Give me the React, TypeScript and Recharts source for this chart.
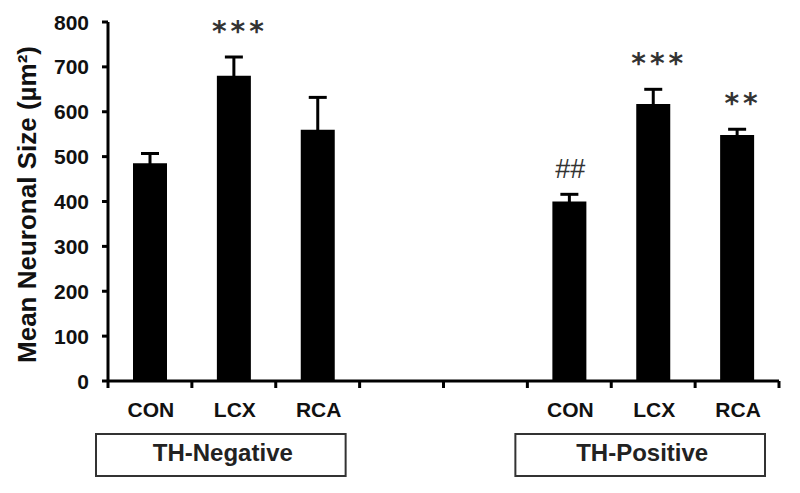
import React from 'react';
import { BarChart, Bar, XAxis, YAxis, ErrorBar, LabelList, Label } from 'recharts';

const categories = ['CON', 'LCX', 'RCA', '', '', 'CON', 'LCX', 'RCA'];
const means: (number | null)[] = [485, 680, 560, null, null, 400, 617, 548];
const errors: (number | null)[] = [22, 42, 72, null, null, 16, 33, 13];
const annotations = ['', '***', '', '', '', '##', '***', '**'];
const groupLabels = ['', 'TH-Negative', '', '', '', '', 'TH-Positive', ''];
const yTicks = [0, 100, 200, 300, 400, 500, 600, 700, 800];

const data = categories.map((name, i) => ({
  id: i,
  name,
  mean: means[i],
  err: errors[i],
}));

const W = 800;
const H = 493;
const M = { top: 22, right: 21, left: 48, bottom: 72 };
const Y_AXIS_W = 60;
const BAND = (W - M.left - M.right - Y_AXIS_W) / categories.length;

const FONT = 'Liberation Sans, Arial, sans-serif';

const XTick = (props: any) => {
  const { x, y, payload } = props;
  const i = payload.index;
  const label = categories[i];
  const group = groupLabels[i];
  const boxW = 3 * BAND - 2;
  const boxCx = x - 13;
  const left = x - BAND / 2;
  const right = x + BAND / 2;
  return (
    <g>
      <line x1={left} x2={left} y1={y} y2={y + 7} stroke="#000" strokeWidth={3} />
      {i === categories.length - 1 ? (
        <line x1={right} x2={right} y1={y} y2={y + 7} stroke="#000" strokeWidth={3} />
      ) : null}
      <text x={x + 1} y={y + 36} textAnchor="middle" fontFamily={FONT} fontWeight="bold" fontSize={21} fill="#111">
        {label}
      </text>
      {group ? (
        <g>
          <rect x={boxCx - boxW / 2} y={434} width={boxW} height={42} fill="#fff" stroke="#333" strokeWidth={2} />
          <text x={boxCx + 2} y={461} textAnchor="middle" fontFamily={FONT} fontWeight="bold" fontSize={24} fill="#222">
            {group}
          </text>
        </g>
      ) : null}
    </g>
  );
};

const YTick = (props: any) => {
  const { x, y, payload } = props;
  return (
    <text x={x - 7} y={y} dy="0.36em" textAnchor="end" fontFamily={FONT} fontWeight="bold" fontSize={21} fill="#111">
      {payload.value}
    </text>
  );
};

const Annotation = (props: any) => {
  const { x, y, width, height, value } = props;
  const idx = Number(value);
  const note = annotations[idx];
  const m = means[idx];
  const e = errors[idx];
  if (!note || m == null || e == null) return null;
  const errPx = (height / m) * e;
  const top = y - errPx;
  const cx = x + width / 2;
  if (note.startsWith('#')) {
    return (
      <text x={cx + 1} y={top - 16} textAnchor="middle" fontFamily={FONT} fontSize={27} fill="#333">
        {note}
      </text>
    );
  }
  return (
    <text
      x={cx + 6}
      y={top - 16}
      textAnchor="middle"
      fontFamily="DejaVu Sans, sans-serif"
      fontWeight="bold"
      fontSize={28}
      letterSpacing={4}
      fill="#333"
    >
      {note}
    </text>
  );
};

const YLabel = (props: any) => {
  const { viewBox } = props;
  const cx = viewBox.x - 21;
  const cy = viewBox.y + viewBox.height / 2 + 3;
  return (
    <text
      x={cx}
      y={cy}
      transform={`rotate(-90 ${cx} ${cy})`}
      textAnchor="middle"
      dominantBaseline="central"
      fontFamily={FONT}
      fontWeight="bold"
      fontSize={26}
      fill="#111"
    >
      Mean Neuronal Size (µm²)
    </text>
  );
};

export default function App() {
  return (
    <div style={{ width: W, height: H, background: '#fff' }}>
      <style>{`body{margin:0;background:#fff}`}</style>
      <BarChart width={W} height={H} data={data} margin={M} barCategoryGap={0}>
        <XAxis
          dataKey="id"
          type="category"
          interval={0}
          tick={<XTick />}
          tickLine={false}
          axisLine={{ stroke: '#000', strokeWidth: 3 }}
          tickSize={0}
          height={40}
          tickMargin={0}
        />
        <YAxis
          domain={[0, 800]}
          ticks={yTicks}
          interval={0}
          width={Y_AXIS_W}
          tick={<YTick />}
          tickLine={{ stroke: '#000', strokeWidth: 3 }}
          axisLine={{ stroke: '#000', strokeWidth: 3 }}
          tickSize={6}
          tickMargin={6}
        >
          <Label content={<YLabel />} position="left" />
        </YAxis>
        <Bar dataKey="mean" fill="#000" barSize={34} isAnimationActive={false}>
          <ErrorBar dataKey="err" direction="y" width={9} stroke="#000" strokeWidth={3} isAnimationActive={false} />
          <LabelList dataKey="id" content={<Annotation />} />
        </Bar>
      </BarChart>
    </div>
  );
}
